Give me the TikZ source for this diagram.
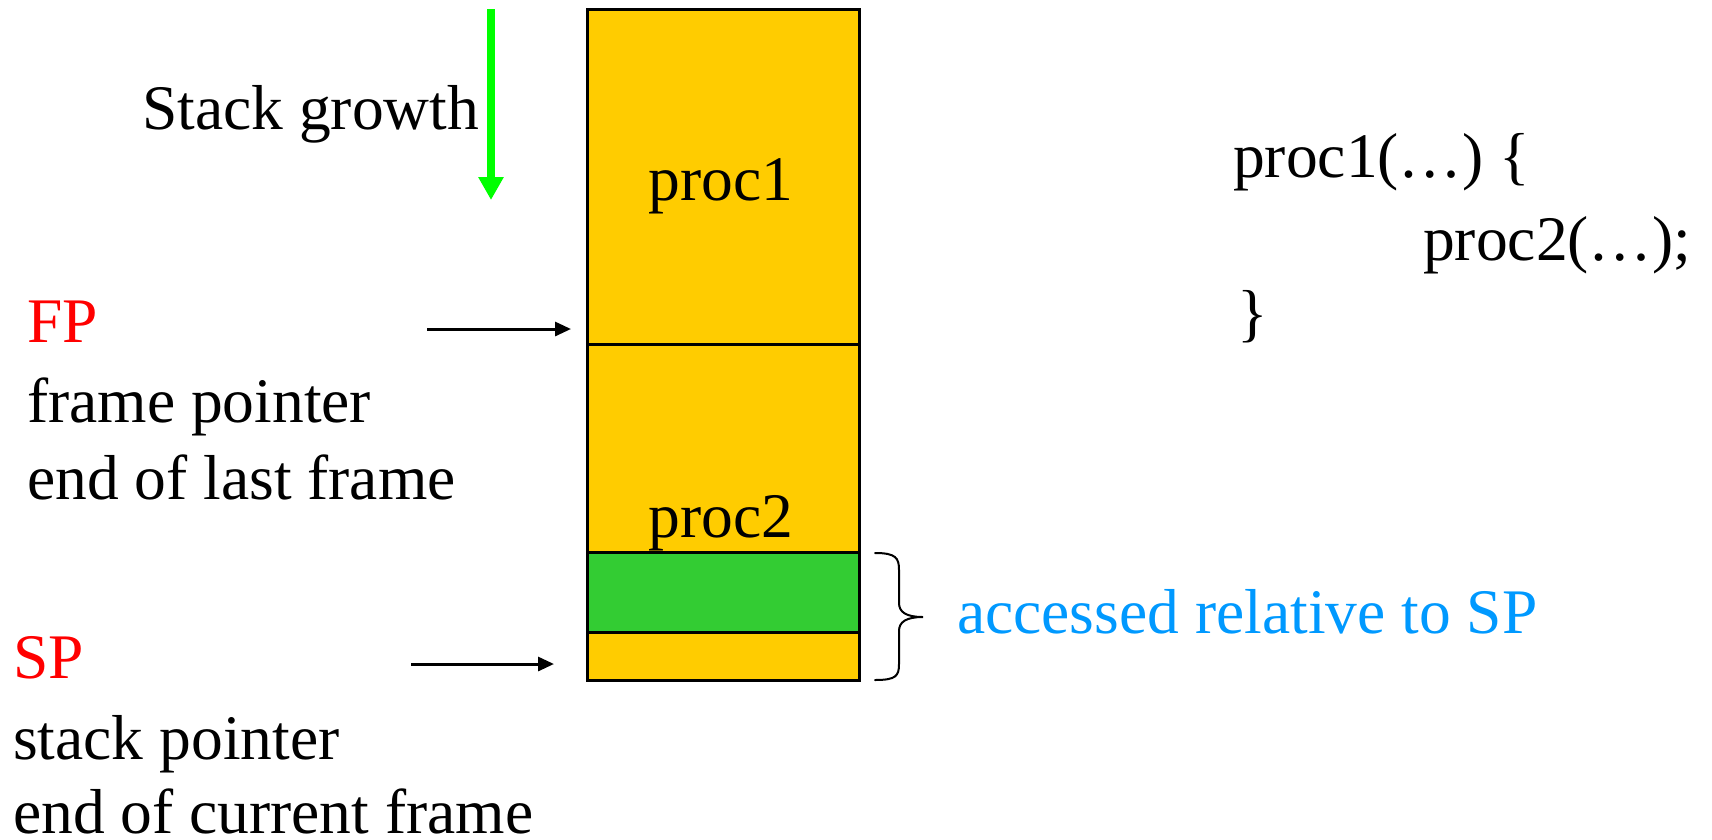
\documentclass[tikz,border=0pt]{standalone}
\usepackage{fontspec}
\setmainfont{Liberation Serif}
\usetikzlibrary{arrows.meta}
\pgfdeclarelayer{edgelayer}
\pgfdeclarelayer{nodelayer}
\pgfsetlayers{edgelayer,nodelayer,main}
\definecolor{frameyellow}{RGB}{255,204,0}
\definecolor{localgreen}{RGB}{51,204,51}
\definecolor{growgreen}{RGB}{0,255,0}
\definecolor{noteblue}{RGB}{0,153,255}
\tikzstyle{frame}=[draw=black, line width=3pt, fill=frameyellow, inner sep=0, outer sep=0, anchor=north west, minimum width=272pt]
\tikzstyle{txt}=[inner sep=0, anchor=base west, font=\fontsize{63.5}{76}\selectfont]
\tikzstyle{pointer}=[draw=black, line width=3pt, -{Triangle[length=16pt, width=14pt]}]
\tikzstyle{growth}=[draw=growgreen, line width=7.5pt, -{Triangle[length=23pt, width=24pt]}]
\tikzstyle{curly}=[draw=black, line width=2pt, line cap=round]

\begin{document}
\begin{tikzpicture}[x=1pt, y=-1pt]
	\useasboundingbox (0, 0) rectangle (1712, 839);
	\begin{pgfonlayer}{nodelayer}
		\node [style=frame, minimum height=335pt] (1) at (587, 9) {};
		\node [style=frame, minimum height=208pt] (2) at (587, 344) {};
		\node [style=frame, fill=localgreen, minimum height=80pt] (3) at (587, 552) {};
		\node [style=frame, minimum height=48pt] (4) at (587, 632) {};
		\node [style=txt, anchor=base] (p1) at (721, 200) {proc1};
		\node [style=txt, anchor=base] (p2) at (721, 537) {proc2};
		\node [style=txt] (sg) at (142, 129) {Stack growth};
		\node [style=txt, text=red] (fp) at (27, 342) {FP};
		\node [style=txt] (fp1) at (27, 422) {frame pointer};
		\node [style=txt] (fp2) at (27, 499) {end of last frame};
		\node [style=txt, text=red] (sp) at (13, 678) {SP};
		\node [style=txt] (sp1) at (13, 759) {stack pointer};
		\node [style=txt] (sp2) at (13, 833) {end of current frame};
		\node [style=txt, text=noteblue] (acc) at (957, 633) {accessed relative to SP};
		\node [style=txt] (c1) at (1233, 177) {proc1(…) \{};
		\node [style=txt] (c2) at (1423, 260) {proc2(…);};
		\node [style=txt] (c3) at (1237, 334) {\}};
	\end{pgfonlayer}
	\begin{pgfonlayer}{edgelayer}
		\coordinate (gtop) at (491, 9);
		\coordinate (gbot) at (491, 200);
		\coordinate (fptail) at (427, 329);
		\coordinate (fphead) at (571, 329);
		\coordinate (sptail) at (411, 664);
		\coordinate (sphead) at (554, 664);
		\coordinate (btop) at (875, 553);
		\coordinate (btip) at (923, 617);
		\coordinate (bbot) at (875, 680);
		\draw [style=growth] (gtop) to (gbot);
		\draw [style=pointer] (fptail) to (fphead);
		\draw [style=pointer] (sptail) to (sphead);
		% curly bracket for the locals
		\draw [style=curly] (btop) .. controls (896, 553) and (899, 558) .. (899, 570) -- (899, 603)
			.. controls (899, 612) and (906, 617) .. (btip)
			.. controls (906, 617) and (899, 622) .. (899, 631) -- (899, 664)
			.. controls (899, 676) and (896, 680) .. (bbot);
	\end{pgfonlayer}
\end{tikzpicture}
\end{document}
